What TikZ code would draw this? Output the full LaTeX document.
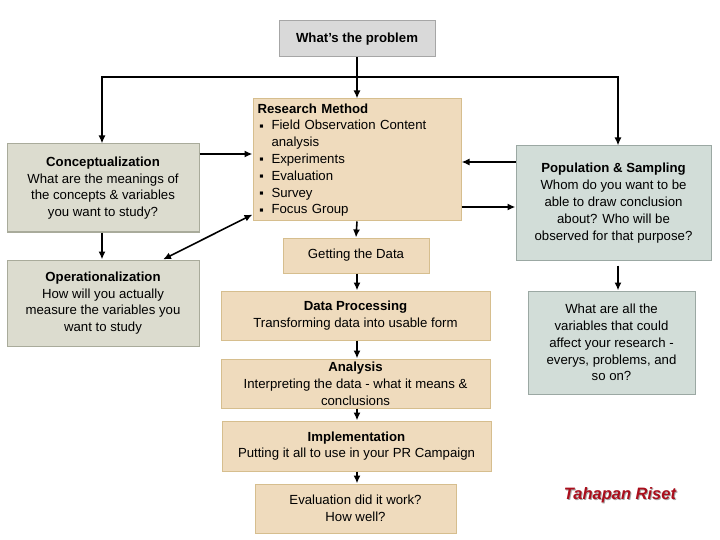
\documentclass[tikz,border=0pt]{standalone}
\usepackage{fontspec}
\setmainfont{Liberation Sans}
\usetikzlibrary{arrows.meta}
\definecolor{graybox}{HTML}{D9D9D9}
\definecolor{grayline}{HTML}{A6A6A6}
\definecolor{concfill}{HTML}{DCDCCF}
\definecolor{concline}{HTML}{A9AB9B}
\definecolor{popfill}{HTML}{D2DDD8}
\definecolor{popline}{HTML}{9BA8A3}
\definecolor{tanfill}{HTML}{EFDBBD}
\definecolor{tanline}{HTML}{D6BE8E}
\definecolor{titlered}{HTML}{AA0E1C}
\tikzset{
  box/.style={draw, line width=1pt, inner sep=2pt, align=center,
    font=\fontsize{13.2}{16.8}\selectfont},
  probbox/.style={box, fill=graybox, draw=grayline},
  concbox/.style={box, fill=concfill, draw=concline},
  popbox/.style={box, fill=popfill, draw=popline},
  tanbox/.style={box, fill=tanfill, draw=tanline},
  conn/.style={line width=1.6pt, -{Latex[length=8pt,width=7pt]}},
  thick conn/.style={line width=2.8pt, -{Latex[length=8pt,width=7pt]}},
}
\newcommand{\bul}{\makebox[12pt][l]{\raisebox{1.5pt}{\fontsize{6.5}{7}\selectfont ■}}}
\begin{document}
\begin{tikzpicture}[x=1pt,y=-1pt]
\useasboundingbox (0,0) rectangle (720,540);
\fill[white] (0,0) rectangle (720,540);

\node[probbox, minimum width=156pt, minimum height=36pt] (prob) at (357,39) {\textbf{What’s the problem}};

\node[tanbox, minimum width=208pt, minimum height=122pt, align=left, text width=199pt] (rm) at (357,160)
 {\textbf{Research Method}\\
  \hspace*{2pt}\bul Field Observation Content\\
  \hspace*{14pt}analysis\\
  \hspace*{2pt}\bul Experiments\\
  \hspace*{2pt}\bul Evaluation\\
  \hspace*{2pt}\bul Survey\\
  \hspace*{2pt}\bul Focus Group};

\node[concbox, minimum width=192pt, minimum height=88pt] (conc) at (103,188)
 {\textbf{Conceptualization}\\What are the meanings of\\the concepts \& variables\\you want to study?};

\node[popbox, minimum width=195pt, minimum height=114pt] (pop) at (613.5,203)
 {\textbf{Population \& Sampling}\\Whom do you want to be\\able to draw conclusion\\about? Who will be\\observed for that purpose?};

\node[tanbox, minimum width=146pt, minimum height=35pt] (get) at (356,255.5) {Getting the Data};

\node[concbox, minimum width=192pt, minimum height=86pt] (oper) at (103,303)
 {\textbf{Operationalization}\\How will you actually\\measure the variables you\\want to study};

\node[popbox, minimum width=167pt, minimum height=103pt] (vars) at (611.5,342.5)
 {What are all the\\variables that could\\affect your research -\\everys, problems, and\\so on?};

\node[tanbox, minimum width=269pt, minimum height=49pt] (dp) at (355.5,315.5)
 {\textbf{Data Processing}\\Transforming data into usable form};

\node[tanbox, minimum width=269pt, minimum height=49pt] (an) at (355.5,383.5)
 {\textbf{Analysis}\\Interpreting the data - what it means \&\\conclusions};

\node[tanbox, minimum width=269pt, minimum height=50pt] (impl) at (356.5,446)
 {\textbf{Implementation}\\Putting it all to use in your PR Campaign};

\node[tanbox, minimum width=201pt, minimum height=49pt] (ev) at (355.5,508.5)
 {Evaluation did it work?\\How well?};

\node[font=\fontsize{16.5}{18}\selectfont\bfseries\itshape, text=black!35, inner sep=0pt] at (621,495.8) {Tahapan Riset};
\node[font=\fontsize{16.5}{18}\selectfont\bfseries\itshape, text=titlered, inner sep=0pt] (title) at (620,495) {Tahapan Riset};

% connectors
\coordinate (j) at (357,77);
\draw[conn] (prob.south) -- (rm.north);
\draw[conn] (j) -| ([xshift=-1pt]conc.north);
\draw[conn] (j) -| ([xshift=4.5pt]pop.north);
\draw[thick conn] ([yshift=34pt]conc.east) -- ([yshift=34pt]conc.east -| rm.west);
\draw[conn] ([yshift=41pt]pop.west) -- ([yshift=41pt]pop.west -| rm.east);
\draw[thick conn] ([yshift=-47pt]rm.east) -- ([yshift=-47pt]rm.east -| pop.west);
\draw[conn] (rm.south) -- (get.north);
\draw[conn] ([xshift=-1pt]conc.south) -- ([xshift=-1pt]oper.north);
\draw[line width=1.6pt, {Latex[length=8pt,width=7pt]}-{Latex[length=8pt,width=7pt]}] ([xshift=60pt]oper.north) -- ([yshift=7pt]rm.south west);
\draw[conn, shorten <=5pt] ([xshift=4.5pt]pop.south) -- ([xshift=6.5pt]vars.north);
\draw[conn] ([xshift=1pt]get.south) -- ([xshift=1.5pt]dp.north);
\draw[conn] ([xshift=1.5pt]dp.south) -- ([xshift=1.5pt]an.north);
\draw[conn] ([xshift=1.5pt]an.south) -- ([xshift=0.5pt]impl.north);
\draw[thick conn] ([xshift=0.5pt]impl.south) -- ([xshift=1.5pt]ev.north);
\end{tikzpicture}
\end{document}
